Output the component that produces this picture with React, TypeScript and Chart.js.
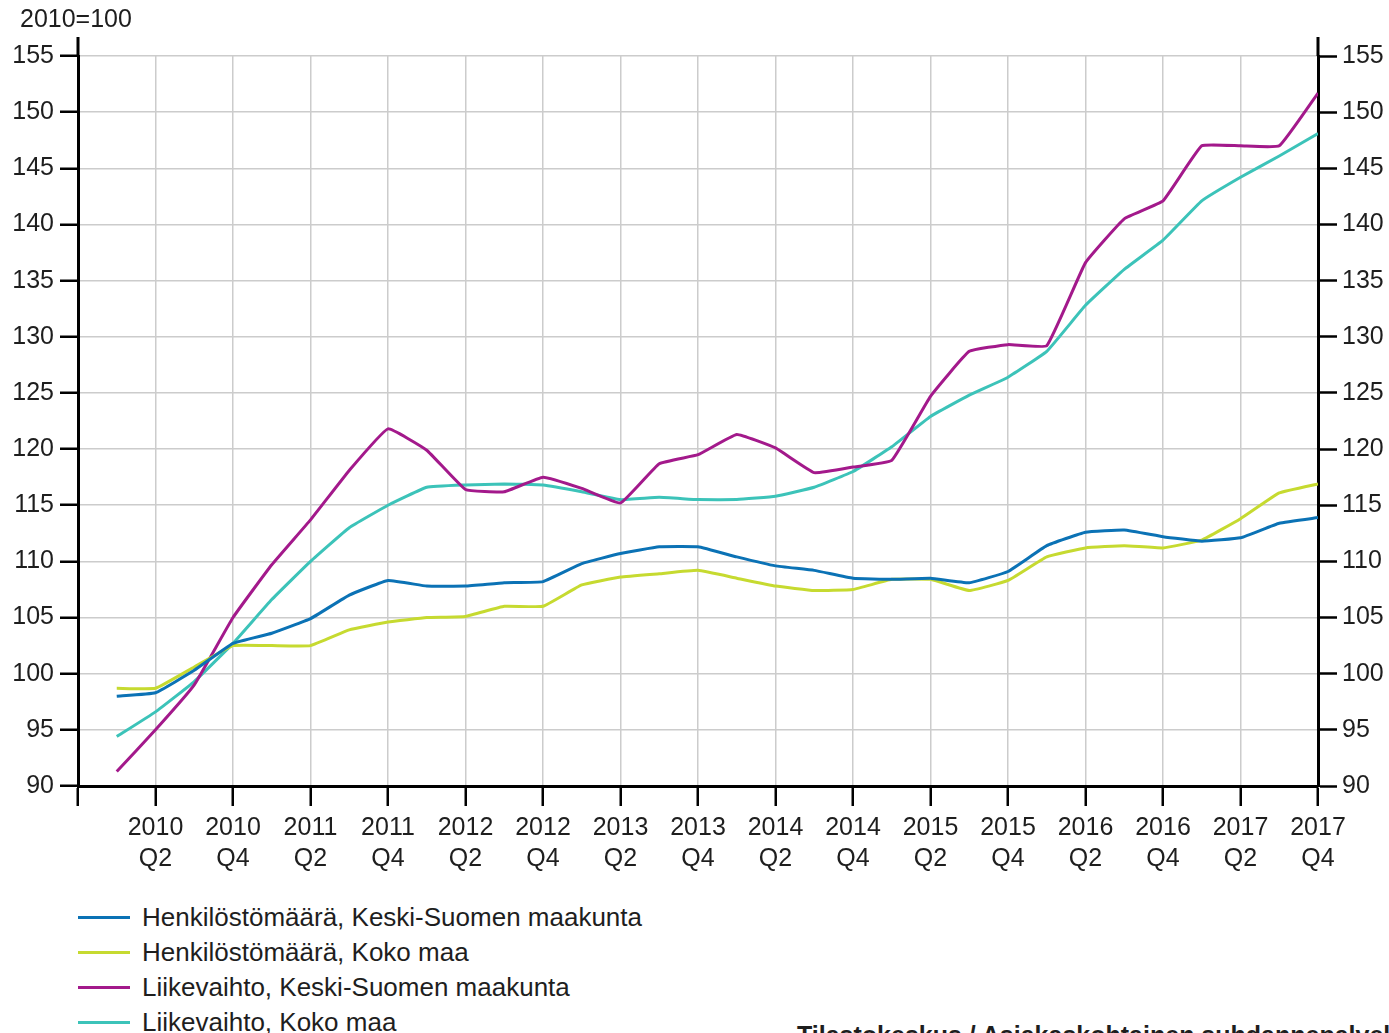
import React, { useEffect, useRef } from "react";
import { Chart, registerables } from "chart.js";

Chart.register(...registerables);

const quarters = [
  "2010 Q1", "2010 Q2", "2010 Q3", "2010 Q4",
  "2011 Q1", "2011 Q2", "2011 Q3", "2011 Q4",
  "2012 Q1", "2012 Q2", "2012 Q3", "2012 Q4",
  "2013 Q1", "2013 Q2", "2013 Q3", "2013 Q4",
  "2014 Q1", "2014 Q2", "2014 Q3", "2014 Q4",
  "2015 Q1", "2015 Q2", "2015 Q3", "2015 Q4",
  "2016 Q1", "2016 Q2", "2016 Q3", "2016 Q4",
  "2017 Q1", "2017 Q2", "2017 Q3", "2017 Q4",
];

const henkilostoKeskiSuomi = [
  98.0, 98.3, 100.3, 102.7, 103.6, 104.9, 107.0, 108.3,
  107.8, 107.8, 108.1, 108.2, 109.8, 110.7, 111.3, 111.3,
  110.4, 109.6, 109.2, 108.5, 108.4, 108.5, 108.1, 109.1,
  111.4, 112.6, 112.8, 112.2, 111.8, 112.1, 113.4, 113.9,
];

const henkilostoKokoMaa = [
  98.7, 98.7, 100.6, 102.5, 102.5, 102.5, 103.9, 104.6,
  105.0, 105.1, 106.0, 106.0, 107.9, 108.6, 108.9, 109.2,
  108.5, 107.8, 107.4, 107.5, 108.4, 108.4, 107.4, 108.3,
  110.4, 111.2, 111.4, 111.2, 111.9, 113.8, 116.1, 116.9,
];

const liikevaihtoKeskiSuomi = [
  91.3, 95.0, 99.0, 105.0, 109.7, 113.7, 118.1, 121.8,
  119.9, 116.4, 116.2, 117.5, 116.5, 115.2, 118.7, 119.5,
  121.3, 120.1, 117.9, 118.4, 119.0, 124.7, 128.7, 129.3,
  129.2, 136.6, 140.5, 142.1, 147.0, 147.0, 147.0, 151.7,
];

const liikevaihtoKokoMaa = [
  94.4, 96.6, 99.3, 102.7, 106.6, 110.0, 113.0, 115.0,
  116.6, 116.8, 116.9, 116.8, 116.2, 115.5, 115.7, 115.5,
  115.5, 115.8, 116.6, 118.0, 120.2, 122.9, 124.8, 126.4,
  128.7, 132.8, 136.0, 138.6, 142.1, 144.2, 146.1, 148.1,
];

const seriesNames = [
  "Henkilöstömäärä, Keski-Suomen maakunta",
  "Henkilöstömäärä, Koko maa",
  "Liikevaihto, Keski-Suomen maakunta",
  "Liikevaihto, Koko maa",
];
const seriesColors = ["#0b72b5", "#c6da30", "#a3198b", "#3cc3b9"];
const seriesValues = [
  henkilostoKeskiSuomi,
  henkilostoKokoMaa,
  liikevaihtoKeskiSuomi,
  liikevaihtoKokoMaa,
];

const yMin = 90;
const yMax = 155;
const yStep = 5;
const unitLabel = "2010=100";
const sourceText = "Tilastokeskus / Asiakaskohtainen suhdannepalvelu";

const FONT = "'Liberation Sans', Arial, Helvetica, sans-serif";
const TEXT = "#1e1e1e";

const axisExtensions = {
  id: "axisExtensions",
  afterDraw(chart: any) {
    const { ctx, chartArea } = chart;
    ctx.save();
    ctx.strokeStyle = "#000";
    ctx.lineWidth = 3;
    ctx.beginPath();
    ctx.moveTo(chartArea.left, chartArea.top - 19);
    ctx.lineTo(chartArea.left, chartArea.top);
    ctx.moveTo(chartArea.right, chartArea.top - 19);
    ctx.lineTo(chartArea.right, chartArea.top);
    ctx.stroke();
    ctx.restore();
  },
};

export default function App() {
  const ref = useRef<HTMLCanvasElement | null>(null);

  useEffect(() => {
    document.body.style.margin = "0";
    document.body.style.overflow = "hidden";
    if (!ref.current) return;

    const tickValues = [-1].concat(
      quarters
        .map((q, i) => (q.endsWith("Q2") || q.endsWith("Q4") ? i : -99))
        .filter((v) => v >= 0)
    );

    const chart = new Chart(ref.current, {
      type: "line",
      data: {
        datasets: seriesValues.map((vals, s) => ({
          label: seriesNames[s],
          data: vals.map((v, i) => ({ x: i, y: v })),
          borderColor: seriesColors[s],
          backgroundColor: seriesColors[s],
          borderWidth: 3,
          pointRadius: 0,
          tension: 0.1,
          borderJoinStyle: "round" as const,
          fill: false,
          yAxisID: "y",
        })),
      },
      options: {
        animation: false,
        responsive: false,
        events: [],
        layout: { padding: { top: 56, left: 0, right: 0, bottom: 0 } },
        plugins: {
          legend: { display: false },
          tooltip: { enabled: false },
          title: { display: false },
        },
        scales: {
          x: {
            type: "linear",
            min: -1,
            max: quarters.length - 1,
            afterBuildTicks: (scale: any) => {
              scale.ticks = tickValues.map((v) => ({ value: v }));
            },
            afterFit: (scale: any) => {
              scale.height = 104;
            },
            grid: {
              color: "#cccccc",
              lineWidth: 1.5,
              tickColor: "#000",
              tickLength: 20,
              tickWidth: 2.5,
            },
            border: { color: "#000", width: 3 },
            ticks: {
              autoSkip: false,
              maxRotation: 0,
              padding: 7,
              color: TEXT,
              font: { family: FONT, size: 25, lineHeight: 1.24 },
              callback: (value: any) => {
                const v = Number(value);
                return v >= 0 && quarters[v] ? quarters[v].split(" ") : "";
              },
            },
          },
          y: {
            type: "linear",
            position: "left",
            min: yMin,
            max: yMax,
            afterFit: (scale: any) => {
              scale.width = 78;
            },
            grid: {
              color: "#cccccc",
              lineWidth: 1.5,
              tickColor: "#000",
              tickLength: 18,
              tickWidth: 2.5,
            },
            border: { color: "#000", width: 3 },
            ticks: {
              stepSize: yStep,
              padding: 6,
              color: TEXT,
              font: { family: FONT, size: 25 },
            },
          },
          y2: {
            type: "linear",
            position: "right",
            min: yMin,
            max: yMax,
            afterFit: (scale: any) => {
              scale.width = 71;
            },
            grid: {
              drawOnChartArea: false,
              tickColor: "#000",
              tickLength: 19,
              tickWidth: 2.5,
            },
            border: { color: "#000", width: 3 },
            ticks: {
              stepSize: yStep,
              padding: 5,
              color: TEXT,
              font: { family: FONT, size: 25 },
            },
          },
        },
      },
      plugins: [axisExtensions],
    } as any);

    return () => chart.destroy();
  }, []);

  return (
    <div
      style={{
        position: "relative",
        width: 1389,
        height: 1033,
        overflow: "hidden",
        background: "#fff",
        fontFamily: FONT,
        color: TEXT,
      }}
    >
      <canvas
        ref={ref}
        width={1389}
        height={890}
        style={{ position: "absolute", left: 0, top: 0, width: 1389, height: 890 }}
      />
      <div
        style={{
          position: "absolute",
          left: 20,
          top: 4,
          fontSize: 25,
          lineHeight: "29px",
          whiteSpace: "nowrap",
        }}
      >
        {unitLabel}
      </div>
      {seriesNames.map((name, s) => (
        <div
          key={name}
          style={{
            position: "absolute",
            left: 78,
            top: 917 + s * 35 - 17,
            height: 34,
            display: "flex",
            alignItems: "center",
            whiteSpace: "nowrap",
          }}
        >
          <span
            style={{
              display: "inline-block",
              width: 52,
              height: 3,
              background: seriesColors[s],
              marginRight: 12,
            }}
          />
          <span style={{ fontSize: 26, lineHeight: "34px" }}>{name}</span>
        </div>
      ))}
      <div
        style={{
          position: "absolute",
          left: 797,
          top: 1020,
          fontSize: 25,
          fontWeight: "bold",
          lineHeight: "30px",
          whiteSpace: "nowrap",
        }}
      >
        {sourceText}
      </div>
    </div>
  );
}
